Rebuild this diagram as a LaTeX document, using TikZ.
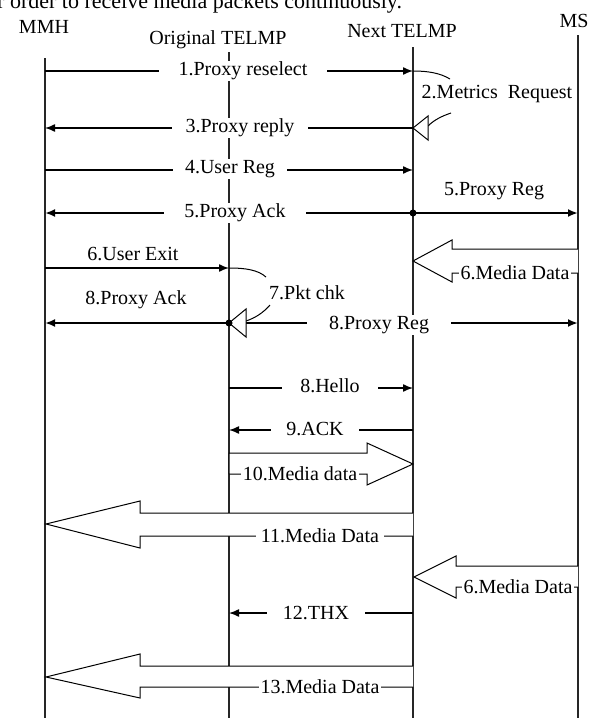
\documentclass[tikz,border=0pt]{standalone}
\usepackage{fontspec}
\setmainfont{Liberation Serif}
\usetikzlibrary{arrows.meta}
\begin{document}
\begin{tikzpicture}[x=1pt,y=-1pt,
  lbl/.style={font=\fontsize{20}{22}\selectfont, inner sep=1pt},
  onl/.style={lbl, fill=white, inner xsep=16pt},
  onb/.style={lbl, fill=white, inner xsep=2pt, inner ysep=0pt},
  msg/.style={line width=1.4pt},
  thk/.style={line width=2.4pt},
  arr/.style={-{Latex[length=10pt,width=8pt]}},
  curv/.style={line width=1pt},
  life/.style={line width=1.2pt, draw=black!85},
  fat/.style={line width=1pt, fill=white, line join=miter},
  opentri/.style={line width=1pt, fill=white},
  dot/.style={circle, fill=black, inner sep=0pt, minimum size=7pt}
]
\useasboundingbox (0,0) rectangle (589,718);
\clip (0,0) rectangle (589,718);

% top (cut) text line
\node[anchor=base west, font=\fontsize{22}{24}\selectfont, inner sep=0pt] (toptext) at (-3,8) {r order to receive media packets continuously.};

% heads
\node[lbl] (mmh) at (44,27) {MMH};
\node[lbl] (orig) at (218,40) {Original TELMP};
\node[lbl] (next) at (402,31) {Next TELMP};
\node[lbl] (ms) at (574,21) {MS};

% lifeline coordinates
\coordinate (A0) at (45,58);  \coordinate (A1) at (45,718);
\coordinate (B0) at (229,52); \coordinate (B1) at (229,718);
\coordinate (C0) at (413,47); \coordinate (C1) at (413,718);
\coordinate (D0) at (578,35); \coordinate (D1) at (578,718);
\draw[life] (A0) -- (A1);
\draw[life] (B0) -- (B1);
\draw[life] (C0) -- (C1);
\draw[life] (D0) -- (D1);

% message end points
\coordinate (a1) at (45,71);   \coordinate (c1) at (413,71);
\coordinate (a3) at (45,128);  \coordinate (c3) at (413,128);
\coordinate (a4) at (45,170);  \coordinate (c4) at (413,170);
\coordinate (a5) at (45,213);  \coordinate (c5) at (413,213); \coordinate (d5) at (578,213);
\coordinate (a6) at (45,268);  \coordinate (b6) at (229,268);
\coordinate (a8) at (45,323);  \coordinate (b8) at (229,323); \coordinate (d8) at (578,323);
\coordinate (bh) at (229,388); \coordinate (ch) at (413,388);
\coordinate (b9) at (229,430); \coordinate (c9) at (413,430);
\coordinate (b12) at (229,613); \coordinate (c12) at (413,613);

% 1
\draw[msg,arr] (a1) -- (c1);
\node[onl, inner xsep=20pt] (l1) at (243,71) {1.Proxy reselect};
% 2
\draw[curv] (c1) .. controls (428,71) and (440,73) .. (450,79);
\node[lbl, fill=white] (l2) at (497,94) {2.Metrics\enspace Request};
\draw[curv] (451,113) .. controls (442,116) and (434,120) .. (428,126);
% 3
\draw[msg,arr] (c3) -- (a3);
\draw[opentri] (c3) -- (428,116) -- (428,140) -- cycle;
\node[onl, inner xsep=14pt] (l3) at (240,128) {3.Proxy reply};
% 4
\draw[msg,arr] (a4) -- (c4);
\node[onl, inner xsep=12pt] (l4) at (230,169) {4.User Reg};
% 5
\draw[thk,arr] (c5) -- (d5);
\draw[thk,arr] (c5) -- (a5);
\node[dot] (dot5) at (c5) {};
\node[lbl] (l5r) at (494,191) {5.Proxy Reg};
\node[onl, inner xsep=20pt] (l5a) at (235,213) {5.Proxy Ack};
% 6 user exit
\draw[msg,arr] (a6) -- (b6);
\node[lbl] (l6) at (133,254) {6.User Exit};
\draw[curv] (b6) .. controls (246,268) and (258,270) .. (266,277);
% 6 media data (first)
\draw[fat] (578,249) -- (452,249) -- (452,240) -- (413,261) -- (452,282) -- (452,273) -- (578,273);
\node[onb] (l6m) at (515,273) {6.Media Data};
% 7
\node[lbl] (l7) at (307,293) {7.Pkt chk};
\draw[curv] (270,305) .. controls (263,313) and (255,318) .. (246,321);
% 8
\draw[thk,arr] (b8) -- (a8);
\draw[thk,arr] (b8) -- (d8);
\draw[opentri] (b8) -- (246,309) -- (246,337) -- cycle;
\node[dot] (dot8) at (b8) {};
\node[lbl] (l8a) at (136,300) {8.Proxy Ack};
\node[onl, inner xsep=22pt] (l8r) at (379,325) {8.Proxy Reg};
% 8 hello
\draw[msg,arr] (bh) -- (ch);
\node[onl, inner xsep=18pt] (lh) at (330,386) {8.Hello};
% 9 ack
\draw[msg,arr] (c9) -- (b9);
\node[onl, inner xsep=15pt] (l9) at (315,429) {9.ACK};
% 10 media data
\draw[fat] (229,474) -- (229,453) -- (367,453) -- (367,443) -- (413,464) -- (367,485) -- (367,474) -- (229,474);
\node[onb] (l10) at (300,474) {10.Media data};
% 11 media data
\draw[fat] (413,513) -- (140,513) -- (140,501) -- (46,524) -- (140,548) -- (140,536) -- (413,536);
\node[onb, inner xsep=5pt] (l11) at (320,536) {11.Media Data};
% 6 media data (second)
\draw[fat] (578,566) -- (456,566) -- (456,556) -- (414,577) -- (456,598) -- (456,587) -- (578,587);
\node[onb] (l6b) at (518,587) {6.Media Data};
% 12 THX
\draw[msg,arr] (c12) -- (b12);
\node[onl, inner xsep=16pt] (l12) at (316,613) {12.THX};
% 13 media data
\draw[fat] (413,666) -- (140,666) -- (140,654) -- (46,677) -- (140,698) -- (140,687) -- (413,687);
\node[onb] (l13) at (320,687) {13.Media Data};
\end{tikzpicture}
\end{document}
